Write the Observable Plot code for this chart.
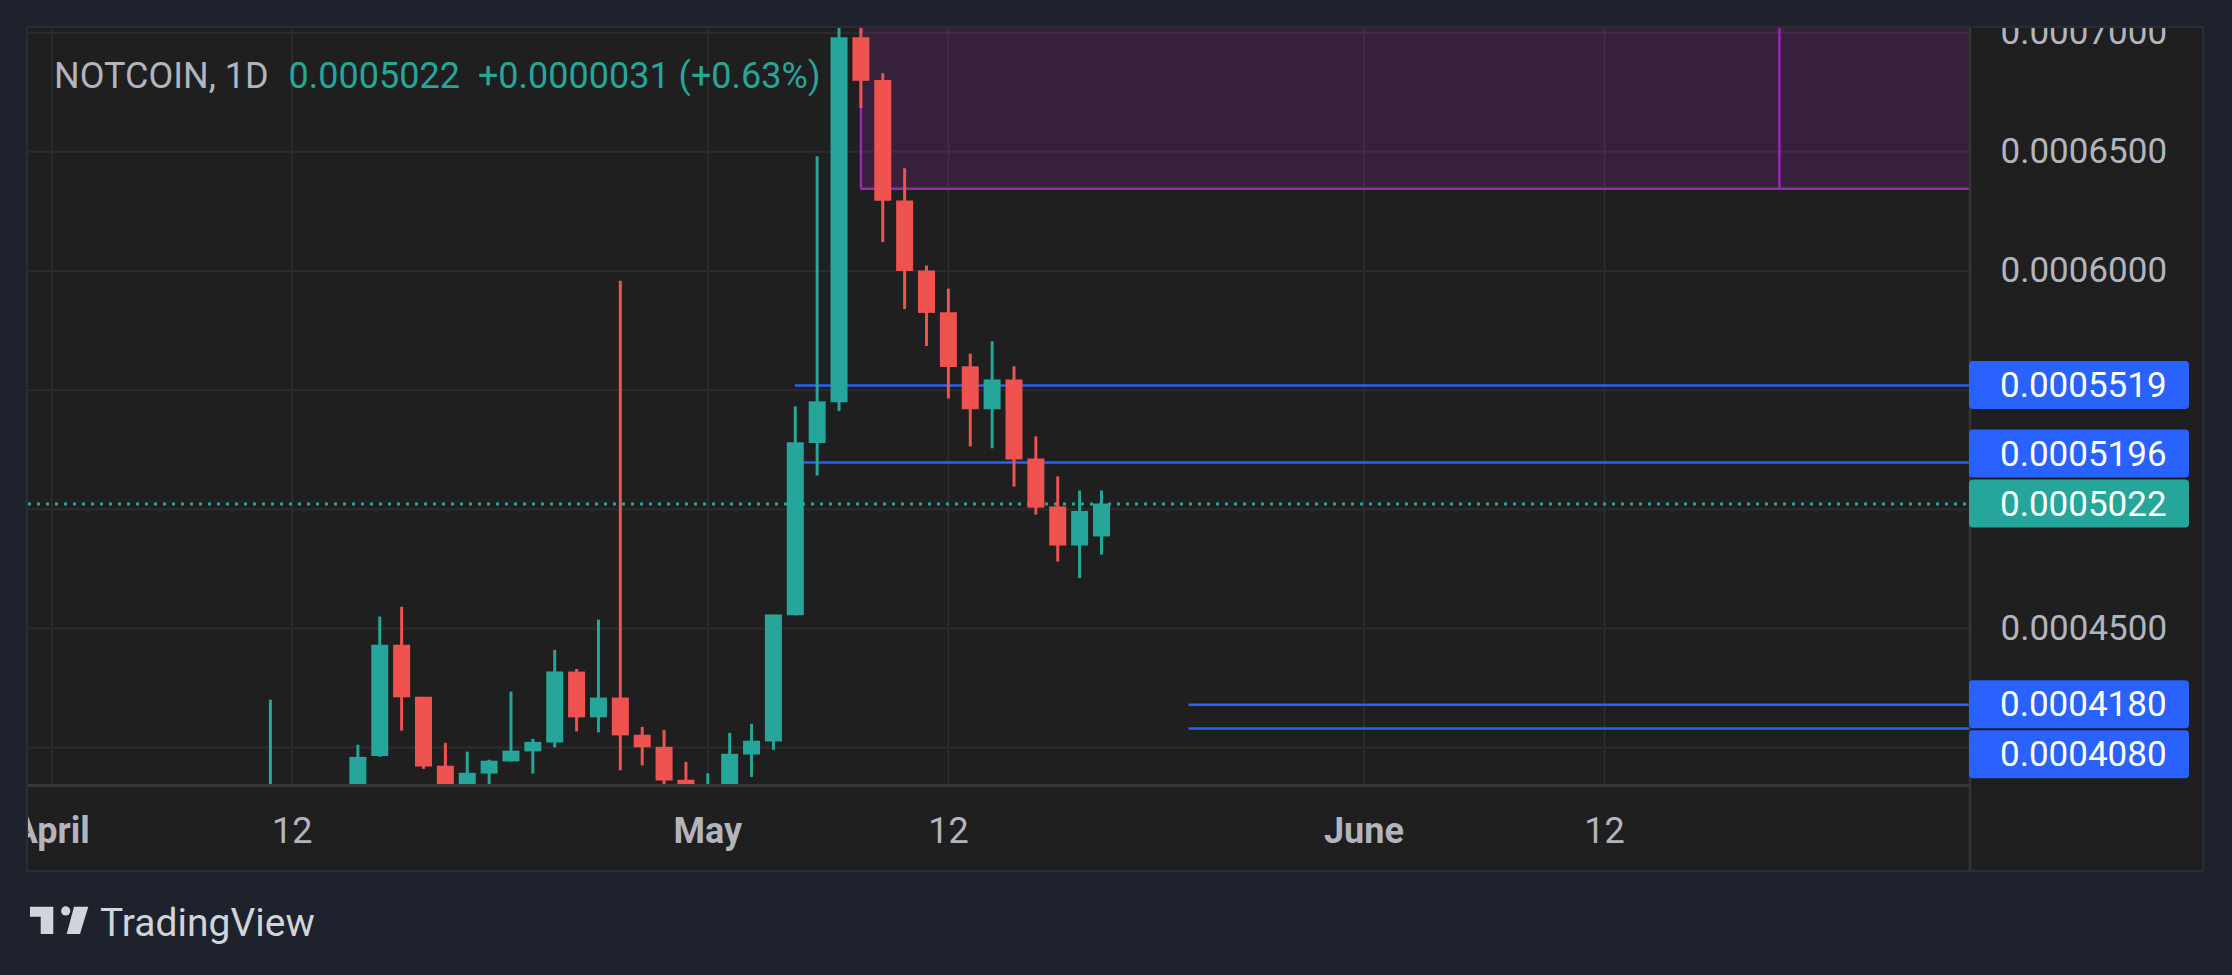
<!DOCTYPE html>
<html><head><meta charset="utf-8">
<script src="https://cdn.jsdelivr.net/npm/d3@7"></script>
<script src="https://cdn.jsdelivr.net/npm/@observablehq/plot@0.6"></script>
<style>
html,body{margin:0;padding:0;background:#1e222d;width:2232px;height:975px;overflow:hidden;font-family:Roboto, sans-serif;}
#panel{position:absolute;left:26px;top:26px;width:2174px;height:842px;border:2px solid #292d38;background:#1f1f1f;}
#panel svg{display:block}
#logo{position:absolute;left:0;top:860px;}
</style></head><body>
<div id="panel"></div>
<svg id="logo" width="340" height="115" xmlns="http://www.w3.org/2000/svg">
  <path d="M30 46.7 H53.3 V74 H40.7 V56.7 H30 Z" fill="#d1d4dc"/>
  <circle cx="65.7" cy="50.9" r="4.6" fill="#d1d4dc"/>
  <path d="M74 46.7 H88.3 L80 74 H66.7 Z" fill="#d1d4dc"/>
  <text x="100" y="76" font-family="Roboto, sans-serif" font-size="39" fill="#d1d4dc">TradingView</text>
</svg>
<script>
// ---- data (bar index: 0 = April 1, one bar per day) ----
const barIndex = [10, 14, 15, 16, 17, 18, 19, 20, 21, 22, 23, 24, 25, 26, 27, 28, 29,
                  30, 31, 32, 33, 34, 35, 36, 37, 38, 39, 40, 41, 42, 43, 44, 45, 46, 47, 48];
const open  = [0.000365, 0.000378, 0.0003963, 0.000443, 0.0004211, 0.0003922, 0.000381, 0.0003889, 0.000394, 0.0003982, 0.0004019, 0.0004317, 0.0004125, 0.0004208, 0.0004052, 0.0004001, 0.0003863,
               0.000379, 0.000383, 0.0003969, 0.0004024, 0.0004553, 0.0005276, 0.0005447, 0.0006979, 0.0006799, 0.0006294, 0.0006, 0.0005825, 0.0005598, 0.0005418, 0.0005543, 0.0005211, 0.000501, 0.0004846, 0.0004884];
const high  = [0.0004199, 0.000401, 0.0004548, 0.0004589, 0.0004211, 0.0004018, 0.0003981, 0.0003947, 0.0004233, 0.0004035, 0.0004408, 0.0004328, 0.0004535, 0.0005957, 0.0004085, 0.0004072, 0.0003938,
               0.000389, 0.000406, 0.0004098, 0.0004556, 0.000543, 0.0006479, 0.000703, 0.000704, 0.0006828, 0.0006429, 0.0006021, 0.0005924, 0.0005651, 0.0005703, 0.0005598, 0.0005304, 0.0005136, 0.0005077, 0.0005077];
const low   = [0.00036, 0.000375, 0.0003959, 0.0004069, 0.0003909, 0.000376, 0.000378, 0.000383, 0.000394, 0.0003889, 0.0003999, 0.0004066, 0.0004062, 0.0003903, 0.0003923, 0.000382, 0.000378,
               0.000376, 0.000381, 0.0003875, 0.0003989, 0.0004553, 0.000514, 0.000541, 0.0006682, 0.0006119, 0.0005838, 0.0005683, 0.0005463, 0.0005262, 0.0005254, 0.0005093, 0.0004976, 0.0004779, 0.0004709, 0.0004808];
const close = [0.000378, 0.0003959, 0.000443, 0.0004209, 0.0003919, 0.000381, 0.0003892, 0.0003943, 0.0003985, 0.0004022, 0.0004317, 0.0004125, 0.0004208, 0.0004049, 0.0003999, 0.000386, 0.000381,
               0.000383, 0.0003972, 0.0004027, 0.0004556, 0.0005279, 0.0005451, 0.0006979, 0.0006796, 0.0006293, 0.0005998, 0.0005822, 0.0005595, 0.0005418, 0.0005543, 0.0005207, 0.0005005, 0.0004846, 0.0004991, 0.0005022];

const timeTickIndex  = [0, 11, 30, 41, 60, 71];
const timeTickLabels = ["April", "12", "May", "12", "June", "12"];
const monthTickIndex = [0, 30, 60];
const dayTickIndex   = [11, 41, 71];
const priceTicks = [0.0004, 0.00045, 0.0005, 0.00055, 0.0006, 0.00065, 0.0007];
const priceTickLabels = [0.00045, 0.0006, 0.00065, 0.0007]; // the others sit under the price tags

const levelPrices = [0.0005519, 0.0005196, 0.000418, 0.000408];
const levelStart  = [34, 34, 52, 52];
const currentPrice = 0.0005022;
const zoneStart = 37, zoneMarker = 79, zoneLow = 0.0006345;

const xDomain = [-1.061, 87.69];
const yDomain = [0.00038452, 0.00070176];

const symbolName = "NOTCOIN, 1D";
const lastText = "0.0005022";
const changeText = "+0.0000031 (+0.63%)";

// ---- styles ----
const UP = "#26a69a", DOWN = "#ef5350", BLUE = "#2962ff", PURPLE = "#9c27b0";
const GRID = "#2c2c2c", TXT = "#b2b5be";

const candles = barIndex.map((i, k) => ({i, open: open[k], high: high[k], low: low[k], close: close[k]}));
const candleColor = d => d.close >= d.open ? UP : DOWN;
const levels = levelPrices.map((p, k) => ({price: p, start: levelStart[k]}));
const labelOf = i => timeTickLabels[timeTickIndex.indexOf(i)];

const W = 2174, H = 842;
const plot = Plot.plot({
  width: W, height: H,
  marginLeft: 0, marginTop: 0, marginRight: 233, marginBottom: 86,
  x: {type: "linear", domain: xDomain, axis: null},
  y: {type: "linear", domain: yDomain, axis: null},
  color: {type: "identity"},
  style: {background: "#1f1f1f", color: TXT, fontFamily: "Roboto, sans-serif", fontSize: "35px", overflow: "hidden"},
  marks: [
    Plot.gridY(priceTicks, {stroke: GRID, strokeOpacity: 1, strokeWidth: 2}),
    Plot.gridX(timeTickIndex, {stroke: GRID, strokeOpacity: 1, strokeWidth: 2}),
    Plot.rect([zoneLow], {x1: () => zoneStart, x2: () => xDomain[1], y1: d => d, y2: () => yDomain[1], fill: PURPLE, fillOpacity: 0.2, clip: true}),
    Plot.ruleY([zoneLow], {x1: () => zoneStart, x2: () => xDomain[1], stroke: PURPLE, strokeWidth: 2.5, clip: true}),
    Plot.ruleX([zoneStart, zoneMarker], {y1: () => zoneLow, y2: () => yDomain[1], stroke: PURPLE, strokeWidth: 2.5, clip: true}),
    Plot.ruleY(levels, {y: "price", x1: "start", x2: () => xDomain[1], stroke: BLUE, strokeWidth: 2.5, clip: true}),
    Plot.ruleY([currentPrice], {stroke: UP, strokeWidth: 3, strokeDasharray: "3,6", clip: true}),
    Plot.ruleX(candles, {x: "i", y1: "low", y2: "high", stroke: candleColor, strokeWidth: 3, clip: true}),
    Plot.ruleX(candles, {x: "i", y1: "open", y2: "close", stroke: candleColor, strokeWidth: 17, clip: true}),
    Plot.axisY(priceTickLabels, {anchor: "right", tickSize: 0, tickPadding: 31, tickFormat: d3.format(".7f"), fill: TXT, fontSize: 35}),
    Plot.axisX(monthTickIndex, {anchor: "bottom", tickSize: 0, tickPadding: 33, tickFormat: labelOf, fill: TXT, fontSize: 36, fontWeight: "bold"}),
    Plot.axisX(dayTickIndex, {anchor: "bottom", tickSize: 0, tickPadding: 33, tickFormat: labelOf, fill: TXT, fontSize: 36})
  ]
});
document.getElementById("panel").appendChild(plot);

// ---- overlays positioned with the plot's own scales ----
const svg = d3.select(plot);
const xs = plot.scale("x"), ys = plot.scale("y");
const xr = xs.apply(xDomain[1]);
const yb = ys.apply(yDomain[0]);
svg.append("line").attr("x1", 0).attr("x2", xr).attr("y1", yb + 1.5).attr("y2", yb + 1.5)
  .attr("stroke", "#363636").attr("stroke-width", 3);
svg.append("line").attr("x1", xr + 1).attr("x2", xr + 1).attr("y1", 0).attr("y2", H)
  .attr("stroke", "#363636").attr("stroke-width", 2.5);

// price labels with overlap avoidance (current price first)
const priceLabels = [
  {v: currentPrice, c: UP}, {v: levelPrices[0], c: BLUE}, {v: levelPrices[2], c: BLUE},
  {v: levelPrices[1], c: BLUE}, {v: levelPrices[3], c: BLUE}
];
const BH = 48, GAP = 2, placed = [];
for (const L of priceLabels) {
  let c = ys.apply(L.v);
  for (const p of placed) if (Math.abs(c - p) < BH + GAP) c = c < p ? p - (BH + GAP) : p + (BH + GAP);
  placed.push(c);
  const g = svg.append("g");
  g.append("rect").attr("x", xr).attr("y", c - BH / 2).attr("width", 220).attr("height", BH)
    .attr("rx", 4).attr("fill", L.c);
  g.append("text").attr("x", xr + 31).attr("y", c).attr("dy", "0.35em")
    .attr("text-anchor", "start")
    .attr("fill", "#ffffff").attr("font-size", 35).attr("font-family", "Roboto, sans-serif")
    .text(d3.format(".7f")(L.v));
}

// header legend
const t = svg.append("text").attr("x", 26).attr("y", 60).attr("text-anchor", "start")
  .attr("font-family", "Roboto, sans-serif").attr("font-size", 36);
t.append("tspan").attr("fill", TXT).text(symbolName);
t.append("tspan").attr("fill", UP).attr("dx", 20).text(lastText);
t.append("tspan").attr("fill", UP).attr("dx", 18).text(changeText);
</script>
</body></html>
